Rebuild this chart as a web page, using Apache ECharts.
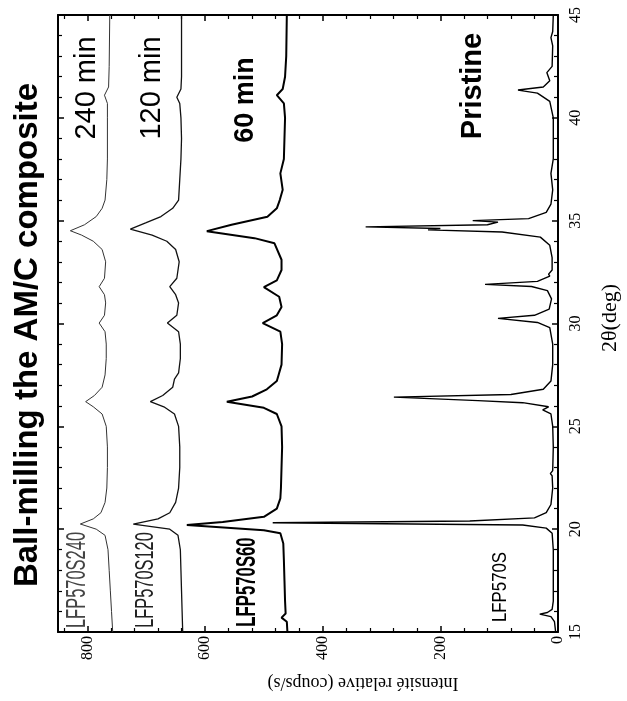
<!DOCTYPE html>
<html>
<head>
<meta charset="utf-8">
<script src="https://cdn.jsdelivr.net/npm/echarts@6/dist/echarts.min.js"></script>
<style>
  html, body { margin: 0; padding: 0; background: #fff; }
  #chart { width: 627px; height: 701px; }
</style>
</head>
<body>
<div id="chart"></div>
<script>
// ---- Data (2θ in degrees, intensity in counts/s) ----
const pristineTheta = [15.0,15.5,15.75,15.87,15.95,16.1,16.5,17.5,19.0,19.8,20.05,20.2,20.31,20.4,20.55,20.8,21.2,22.0,22.6,22.7,22.85,24.0,25.0,25.6,25.8,25.95,26.15,26.25,26.42,26.55,26.8,27.2,28.0,29.0,29.8,30.05,30.25,30.4,30.7,31.2,31.6,31.8,31.9,32.05,32.3,32.4,32.6,33.2,33.8,34.2,34.45,34.55,34.62,34.7,34.8,34.93,35.0,35.1,35.4,35.8,36.5,37.3,38.0,39.0,40.0,40.8,41.2,41.35,41.5,41.8,42.2,42.5,43.5,43.9,44.2,45.0];
const pristineCounts = [4,6,12,31,18,10,8,8,8,10,20,60,485,150,40,20,12,9,10,13,9,8,9,12,26,16,60,136,279,80,25,12,9,9,14,35,102,40,15,11,18,45,124,35,14,16,10,10,14,30,95,221,200,327,120,102,145,50,20,12,9,12,8,8,8,14,35,68,25,14,19,10,9,12,9,8];

const min60Theta = [15.0,15.5,15.7,15.9,16.5,17.5,18.5,19.3,19.8,19.95,20.2,20.35,20.6,21.0,21.5,22.0,23.0,24.0,25.0,25.6,25.9,26.2,26.45,26.8,27.2,27.5,28.0,29.0,29.6,30.02,30.4,30.8,31.3,31.77,32.1,32.6,33.1,33.9,34.15,34.49,34.8,35.19,35.6,36.0,36.5,37.3,38.0,40.0,40.7,41.1,41.4,42.0,43.0,45.0];
const min60Counts = [460,461,470,463,464,465,466,467,472,500,631,570,500,478,472,471,470,469,470,478,500,563,520,495,478,475,470,469,472,502,478,470,474,500,478,470,470,482,516,597,555,494,478,473,468,472,466,464,466,478,468,464,462,461];

const min120Theta = [15,16,17,18,19,19.7,20,20.25,20.5,20.8,21.3,22,23,24,25,25.6,25.95,26.2,26.5,26.9,27.3,27.6,28.3,29,29.6,30.02,30.4,31,31.4,31.79,32.2,33,33.6,34,34.3,34.59,34.9,35.2,35.6,36,37,38,39,40,40.7,41.0,41.4,42,43,45];
const min120Counts = [638,639,640,641,642,646,660,722,680,660,650,645,643,643,645,652,670,693,672,655,652,645,642,642,645,664,648,645,650,660,648,644,650,665,690,727,700,675,655,645,643,641,640,641,643,648,641,640,640,640];

const min240Theta = [15,16,17,18,19,19.7,20.0,20.25,20.5,20.8,21.3,22,23,24,25,25.6,25.95,26.2,26.5,26.9,27.5,28.3,29,29.6,30.02,30.4,31,31.4,31.79,32.2,33,33.6,34,34.3,34.51,34.8,35.2,35.6,36,37,38,40,40.7,41.1,41.5,42.5,45];
const min240Counts = [757,759,761,763,765,770,785,812,790,777,770,767,766,766,768,775,790,803,788,775,770,768,768,770,780,771,769,771,780,771,769,775,790,810,829,805,785,775,770,767,766,766,766,771,764,763,762];

const intensityTicks = [0, 200, 400, 600, 800];
const thetaTicks = [15, 20, 25, 30, 35, 40, 45];

function pairs(theta, counts) {
  return theta.map((t, i) => [counts[i], t]);
}

const chart = echarts.init(document.getElementById('chart'), null, { renderer: 'canvas' });

const serif = 'Liberation Serif';
const sans = 'Liberation Sans';

function xAxisCfg(pos, showLabel) {
  return {
    type: 'value', position: pos, min: 0, max: 850, interval: 200, inverse: true,
    axisLine: { show: true, onZero: false, lineStyle: { color: '#000', width: 2 } },
    axisTick: { show: true, inside: true, length: 6, lineStyle: { color: '#000', width: 1.5 } },
    minorTick: { show: true, splitNumber: 5, length: 4, lineStyle: { color: '#000', width: 1.2 } },
    splitLine: { show: false },
    axisLabel: {
      show: showLabel, rotate: 90, margin: 4, color: '#000', fontFamily: serif, fontSize: 16,
      showMaxLabel: false,
      formatter: v => (intensityTicks.indexOf(v) >= 0 ? String(v) : '')
    }
  };
}
function yAxisCfg(pos, showLabel) {
  return {
    type: 'value', position: pos, min: 15, max: 45, interval: 5,
    axisLine: { show: true, onZero: false, lineStyle: { color: '#000', width: 2 } },
    axisTick: { show: true, inside: true, length: 6, lineStyle: { color: '#000', width: 1.5 } },
    minorTick: { show: true, splitNumber: 5, length: 4, lineStyle: { color: '#000', width: 1.2 } },
    splitLine: { show: false },
    axisLabel: {
      show: showLabel, rotate: 90, margin: 10, color: '#000', fontFamily: serif, fontSize: 16,
      formatter: v => (thetaTicks.indexOf(v) >= 0 ? String(v) : '')
    }
  };
}

function vText(text, x, y, font, color, scaleX, rot) {
  return {
    type: 'text', x: x, y: y, rotation: rot === undefined ? Math.PI / 2 : rot,
    scaleX: scaleX || 1, scaleY: 1,
    style: {
      text: text, font: font, fill: color || '#000',
      align: 'center', verticalAlign: 'middle',
      textAlign: 'center', textVerticalAlign: 'middle'
    }
  };
}

const option = {
  animation: false,
  backgroundColor: '#fff',
  grid: { left: 58, right: 69, top: 15, bottom: 69, containLabel: false },
  xAxis: [xAxisCfg('bottom', true), xAxisCfg('top', false)],
  yAxis: [yAxisCfg('right', true), yAxisCfg('left', false)],
  series: [
    { name: 'LFP570S', type: 'line', xAxisIndex: 0, yAxisIndex: 0, showSymbol: false, symbol: 'none',
      data: pairs(pristineTheta, pristineCounts), lineStyle: { color: '#000', width: 1.4 } },
    { name: 'LFP570S60', type: 'line', xAxisIndex: 0, yAxisIndex: 0, showSymbol: false, symbol: 'none',
      data: pairs(min60Theta, min60Counts), lineStyle: { color: '#000', width: 2 } },
    { name: 'LFP570S120', type: 'line', xAxisIndex: 0, yAxisIndex: 0, showSymbol: false, symbol: 'none',
      data: pairs(min120Theta, min120Counts), lineStyle: { color: '#111', width: 1.3 } },
    { name: 'LFP570S240', type: 'line', xAxisIndex: 0, yAxisIndex: 0, showSymbol: false, symbol: 'none',
      data: pairs(min240Theta, min240Counts), lineStyle: { color: '#333', width: 1 } }
  ],
  graphic: [
    vText('Ball-milling the AM/C composite', 28, 335, 'bold 33px "Liberation Sans"', '#000'),
    vText('240 min', 87, 88, '29px "Liberation Sans"', '#000'),
    vText('120 min', 152, 88, '29px "Liberation Sans"', '#000'),
    vText('60 min', 246, 100, 'bold 27px "Liberation Sans"', '#000'),
    vText('Pristine', 473, 86, 'bold 29px "Liberation Sans"', '#000'),
    vText('LFP570S240', 78, 580, '27px "Liberation Sans"', '#444', 0.61),
    vText('LFP570S120', 146, 580, '26px "Liberation Sans"', '#222', 0.63),
    vText('LFP570S60', 248, 582, 'bold 27px "Liberation Sans"', '#000', 0.62),
    vText('LFP570S', 500, 587, '21px "Liberation Sans"', '#000', 0.8),
    vText('Intensité relative (coups/s)', 363, 683, '18px "Liberation Serif"', '#000', 1, Math.PI),
    vText('2θ(deg)', 610, 318, '22px "Liberation Serif"', '#000', 1)
  ]
};

chart.setOption(option);
</script>
</body>
</html>
